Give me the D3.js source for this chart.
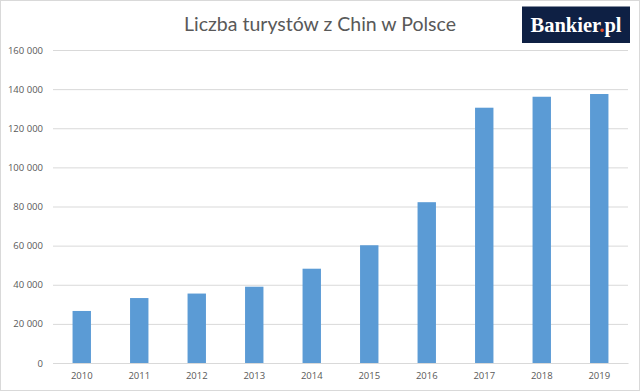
<!DOCTYPE html>
<html>
<head>
<meta charset="utf-8">
<script src="https://cdn.jsdelivr.net/npm/d3@7"></script>
<style>
  body { margin: 0; background: #fff; }
  svg { display: block; }
</style>
</head>
<body>
<div id="chart"></div>
<script>
const years = ['2010', '2011', '2012', '2013', '2014', '2015', '2016', '2017', '2018', '2019'];
const tourists = [26600, 33200, 35500, 39000, 48200, 60200, 82200, 130500, 136100, 137500];
const yTicks = [0, 20000, 40000, 60000, 80000, 100000, 120000, 140000, 160000];
const title = 'Liczba turystów z Chin w Polsce';

const width = 640;
const height = 391;
const margin = { top: 50, right: 12, bottom: 28, left: 53 };

const svg = d3.select('#chart').append('svg')
  .attr('width', width)
  .attr('height', height);

// frame
svg.append('rect')
  .attr('x', 0.5).attr('y', 0.5)
  .attr('width', width - 1).attr('height', height - 1)
  .attr('fill', '#fff')
  .attr('stroke', '#d9d9d9');

const x = d3.scaleBand()
  .domain(years)
  .range([margin.left, width - margin.right])
  .paddingInner(0.68)
  .paddingOuter(0.34);

const y = d3.scaleLinear()
  .domain([0, 160000])
  .range([height - margin.bottom, margin.top]);

const fmt = (v) => d3.format(',')(v).replace(/,/g, '\u00a0');

// y axis + gridlines
const yAxis = svg.append('g')
  .attr('transform', `translate(${margin.left},0)`)
  .call(d3.axisLeft(y).tickValues(yTicks).tickFormat(fmt)
    .tickSize(-(width - margin.left - margin.right)).tickPadding(10));
yAxis.select('.domain').remove();
yAxis.selectAll('.tick line').attr('stroke', '#d9d9d9').attr('stroke-width', 1);
yAxis.selectAll('.tick text')
  .attr('fill', '#595959')
  .style('font-family', 'Open Sans, sans-serif')
  .style('font-size', '9.5px');

// bars
svg.append('g').selectAll('rect').data(years).join('rect')
  .attr('x', (d) => x(d))
  .attr('y', (d, i) => y(tourists[i]))
  .attr('width', x.bandwidth())
  .attr('height', (d, i) => y(0) - y(tourists[i]))
  .attr('fill', '#5b9bd5');

// x axis
const xAxis = svg.append('g')
  .attr('transform', `translate(0,${y(0)})`)
  .call(d3.axisBottom(x).tickSize(0).tickPadding(9));
xAxis.select('.domain').attr('stroke', '#d9d9d9');
xAxis.selectAll('.tick text')
  .attr('fill', '#595959')
  .style('font-family', 'Open Sans, sans-serif')
  .style('font-size', '9.5px');

// title
svg.append('text')
  .attr('x', 320).attr('y', 31)
  .attr('text-anchor', 'middle')
  .attr('fill', '#595959')
  .style('font-family', 'Lato, sans-serif')
  .style('font-size', '19.5px')
  .text(title);

// logo
const logo = svg.append('g').attr('transform', 'translate(522,6.5)');
logo.append('rect')
  .attr('width', 108).attr('height', 36.5)
  .attr('fill', '#0e2044');
const logoText = logo.append('text')
  .attr('x', 54).attr('y', 25)
  .attr('text-anchor', 'middle')
  .attr('fill', '#fff')
  .style('font-family', 'Liberation Serif, serif')
  .style('font-weight', 'bold')
  .style('font-size', '20.5px');
logoText.append('tspan').text('Bankier');
logoText.append('tspan').attr('fill', '#e8512a').text('.');
logoText.append('tspan').text('pl');
</script>
</body>
</html>
